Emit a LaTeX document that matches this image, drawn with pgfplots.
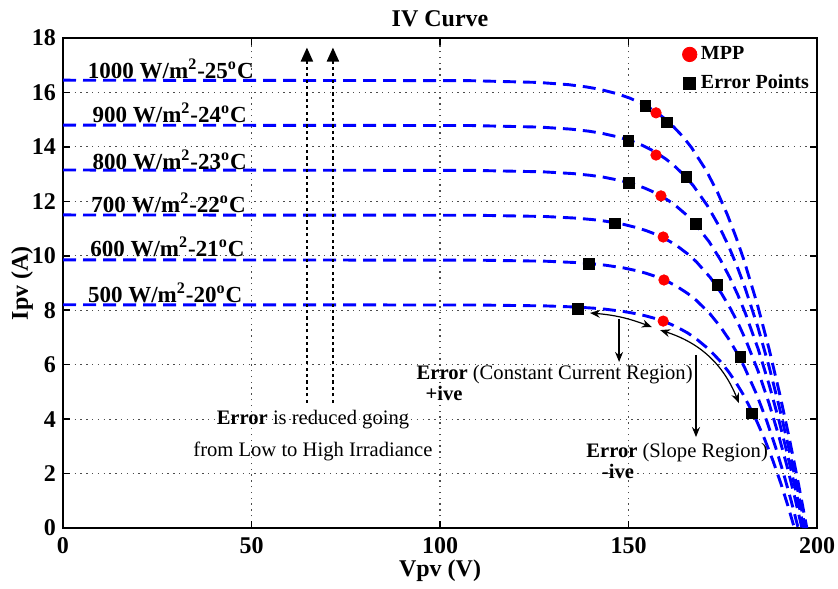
\documentclass[border=0pt]{standalone}
\usepackage{fontspec}
\setmainfont{Liberation Serif}
\usepackage{pgfplots}
\pgfplotsset{compat=1.18}
\usetikzlibrary{arrows.meta}

\begin{document}
\begin{tikzpicture}
\begin{axis}[
  scale only axis, width=377pt, height=245pt,
  xmin=0, xmax=200, ymin=0, ymax=18,
  xtick={0,50,100,150,200}, ytick={0,2,4,6,8,10,12,14,16,18},
  grid=major,
  major grid style={black!70, line width=0.6pt, dash pattern=on 0.7pt off 2.2pt},
  axis line style={line width=0.8pt},
  tick style={black, line width=0.8pt},
  major tick length=3.5pt,
  tick align=inside,
  /pgf/number format/assume math mode=true,
  tick label style={font=\bfseries\fontsize{12}{14}\selectfont},
  xticklabel style={yshift=-1pt},
  xlabel={Vpv (V)}, ylabel={Ipv (A)},
  label style={font=\bfseries\fontsize{12}{14}\selectfont},
  xlabel style={at={(axis description cs:0.5,0)}, anchor=center, yshift=-21.5pt},
  ylabel style={at={(axis description cs:-0.0544,0.5)}, anchor=center},
  title={IV Curve},
  title style={font=\bfseries\fontsize{12}{14}\selectfont, yshift=-4pt},
  legend style={draw=none, fill=none, at={(1.003,1.0)}, anchor=north east,
    font=\bfseries\fontsize{10}{11}\selectfont, row sep=2pt,
    /tikz/every even column/.append style={column sep=3pt}},
  legend cell align=left,
]
% I-V curves
\addplot[blue, line width=1.45pt, dash pattern=on 6.5pt off 3.5pt, forget plot] coordinates {
(0,16.45)(107.51,16.434)(126.06,16.368)(134.08,16.286)(138.80,16.203)(142.16,16.121)(146.92,15.957)(150.33,15.792)(153.00,15.628)(155.20,15.463)(157.08,15.299)(159.47,15.052)(161.49,14.805)(164.32,14.394)(166.67,13.983)(170.50,13.16)(173.59,12.338)(176.20,11.515)(178.49,10.693)(180.55,9.87)(184.15,8.225)(187.28,6.58)(190.09,4.935)(192.66,3.29)(195.05,1.645)(197.3,0)};
\addplot[blue, line width=1.45pt, dash pattern=on 6.5pt off 3.5pt, forget plot] coordinates {
(0,14.8)(108.15,14.785)(126.69,14.726)(134.71,14.652)(139.42,14.578)(142.77,14.504)(147.53,14.356)(150.93,14.208)(153.59,14.06)(155.78,13.912)(157.65,13.764)(160.02,13.542)(162.03,13.32)(164.83,12.95)(167.16,12.58)(170.93,11.84)(173.97,11.1)(176.53,10.36)(178.77,9.62)(180.77,8.88)(184.27,7.4)(187.30,5.92)(190.00,4.44)(192.47,2.96)(194.76,1.48)(196.9,0)};
\addplot[blue, line width=1.45pt, dash pattern=on 6.5pt off 3.5pt, forget plot] coordinates {
(0,13.15)(108.78,13.137)(127.33,13.084)(135.34,13.019)(140.04,12.953)(143.39,12.887)(148.14,12.756)(151.53,12.624)(154.18,12.493)(156.36,12.361)(158.21,12.23)(160.57,12.032)(162.56,11.835)(165.34,11.506)(167.64,11.178)(171.36,10.52)(174.34,9.863)(176.85,9.205)(179.04,8.548)(180.99,7.89)(184.39,6.575)(187.31,5.26)(189.91,3.945)(192.28,2.63)(194.46,1.315)(196.5,0)};
\addplot[blue, line width=1.45pt, dash pattern=on 6.5pt off 3.5pt, forget plot] coordinates {
(0,11.5)(109.32,11.489)(127.86,11.443)(135.87,11.385)(140.57,11.328)(143.91,11.27)(148.65,11.155)(152.03,11.04)(154.67,10.925)(156.84,10.81)(158.68,10.695)(161.02,10.523)(163.00,10.35)(165.75,10.063)(168.03,9.775)(171.70,9.2)(174.62,8.625)(177.08,8.05)(179.22,7.475)(181.12,6.9)(184.41,5.75)(187.23,4.6)(189.72,3.45)(191.99,2.3)(194.06,1.15)(196,0)};
\addplot[blue, line width=1.45pt, dash pattern=on 6.5pt off 3.5pt, forget plot] coordinates {
(0,9.85)(109.36,9.840)(127.90,9.801)(135.90,9.752)(140.59,9.702)(143.93,9.653)(148.65,9.555)(152.03,9.456)(154.65,9.358)(156.81,9.259)(158.65,9.161)(160.97,9.013)(162.93,8.865)(165.66,8.619)(167.91,8.373)(171.53,7.88)(174.40,7.388)(176.81,6.895)(178.89,6.403)(180.74,5.91)(183.93,4.925)(186.64,3.94)(189.04,2.955)(191.19,1.97)(193.17,0.985)(195,0)};
\addplot[blue, line width=1.45pt, dash pattern=on 6.5pt off 3.5pt, forget plot] coordinates {
(0,8.2)(109.40,8.192)(127.93,8.159)(135.93,8.118)(140.62,8.077)(143.95,8.036)(148.66,7.954)(152.02,7.872)(154.64,7.79)(156.79,7.708)(158.61,7.626)(160.92,7.503)(162.87,7.38)(165.57,7.175)(167.79,6.97)(171.36,6.56)(174.18,6.15)(176.54,5.74)(178.57,5.33)(180.36,4.92)(183.45,4.10)(186.06,3.28)(188.35,2.46)(190.40,1.64)(192.27,0.82)(194,0)};

% MPP
\addplot[only marks, mark=*, mark size=2.6pt, color=red, legend image post style={mark size=3.6pt}] coordinates {
(157.3,15.25)(157.3,13.7)(158.6,12.2)(159.2,10.69)(159.4,9.11)(159.2,7.6)};
\addlegendentry{MPP}
% Error points
\addplot[only marks, mark=square*, mark size=2.6pt, color=black, legend image post style={mark size=3pt}] coordinates {
(154.4,15.5)(160.2,14.9)(149.9,14.22)(165.3,12.9)(150.1,12.67)(167.9,11.17)
(146.4,11.2)(173.5,8.93)(139.5,9.7)(179.6,6.28)(136.6,8.05)(182.7,4.2)};
\addlegendentry{Error Points}

% curve labels
\begin{scope}[font=\bfseries\fontsize{11.5}{13}\selectfont]
\node at (axis cs:28.6,16.86) {1000 W/m\textsuperscript{2}-25\textsuperscript{o}C};
\node at (axis cs:28.3,15.25) {900 W/m\textsuperscript{2}-24\textsuperscript{o}C};
\node at (axis cs:28.3,13.52) {800 W/m\textsuperscript{2}-23\textsuperscript{o}C};
\node at (axis cs:28.0,11.94) {700 W/m\textsuperscript{2}-22\textsuperscript{o}C};
\node at (axis cs:27.7,10.32) {600 W/m\textsuperscript{2}-21\textsuperscript{o}C};
\node at (axis cs:27.1,8.63) {500 W/m\textsuperscript{2}-20\textsuperscript{o}C};
\end{scope}

% annotations
\draw[line width=1pt, dash pattern=on 1.6pt off 1.6pt, -{Triangle[length=7pt,width=6pt]}] (axis cs:64.7,4.6) -- (axis cs:64.7,17.65);
\draw[line width=1pt, dash pattern=on 1.6pt off 1.6pt, -{Triangle[length=7pt,width=6pt]}] (axis cs:71.6,4.6) -- (axis cs:71.6,17.65);
\begin{scope}[font=\fontsize{10.3}{12}\selectfont]
\node at (axis cs:66.3,4.0) {\textbf{Error} is reduced going};
\node at (axis cs:66.3,2.8) {from Low to High Irradiance};
\node at (axis cs:130.4,5.62) {\textbf{Error} (Constant Current Region)};
\node at (axis cs:101.1,4.96) {\textbf{+ive}};
\node at (axis cs:162.9,2.76) {\textbf{Error} (Slope Region)};
\node at (axis cs:147.2,2.06) {\textbf{-ive}};
\end{scope}
\draw[line width=0.6pt, {Stealth[length=5pt,width=4pt]}-{Stealth[length=5pt,width=4pt]}] (axis cs:139.8,7.9) to[bend left=8] (axis cs:156.2,7.38);
\draw[line width=0.6pt, -{Stealth[length=5pt,width=4pt]}] (axis cs:147.5,7.68) -- (axis cs:147.5,6.1);
\draw[line width=0.6pt, {Stealth[length=5pt,width=4pt]}-{Stealth[length=5pt,width=4pt]}] (axis cs:158.4,7.27) to[bend left=25] (axis cs:179.3,4.59);
\draw[line width=0.6pt, -{Stealth[length=5pt,width=4pt]}] (axis cs:167.9,6.36) -- (axis cs:167.9,3.34);

\coordinate (bl) at (rel axis cs:0,0);
\coordinate (tr) at (rel axis cs:1,1);
\end{axis}
\pgfresetboundingbox
\path[use as bounding box] ([shift={(-31.5pt,-30pt)}]bl) rectangle ([shift={(10.5pt,19pt)}]tr);
\end{tikzpicture}
\end{document}
